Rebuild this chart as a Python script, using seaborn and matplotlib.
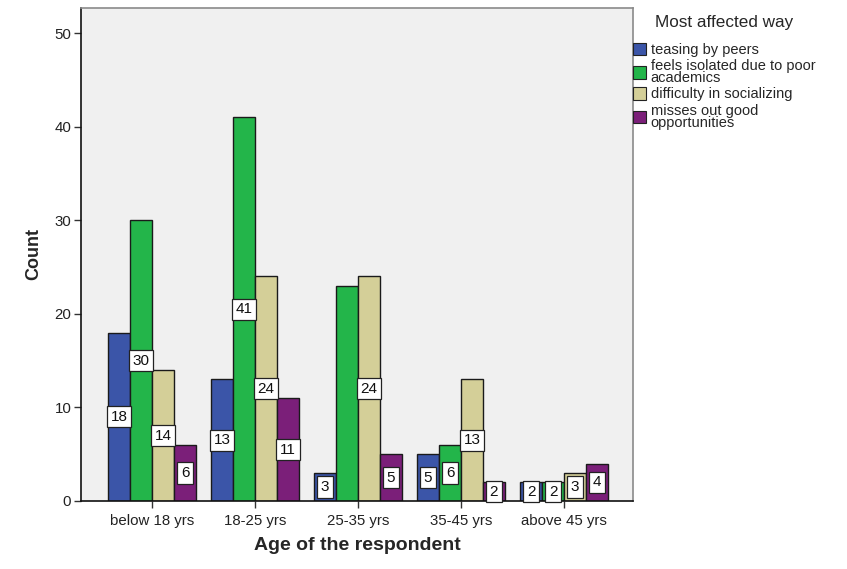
import numpy as np
import pandas as pd
import matplotlib.pyplot as plt
import seaborn as sns

# data
ages = ['below 18 yrs', '18-25 yrs', '25-35 yrs', '35-45 yrs', 'above 45 yrs']
ways = ['teasing by peers', 'feels isolated due to poor\nacademics',
        'difficulty in socializing', 'misses out good\nopportunities']
teasing = [18, 13, 3, 5, 2]
isolated = [30, 41, 23, 6, 2]
socializing = [14, 24, 24, 13, 3]
misses = [6, 11, 5, 2, 4]
colors = ['#3B55A8', '#23B54A', '#D4CF98', '#7B1F79']

rows = []
for way, vals in zip(ways, [teasing, isolated, socializing, misses]):
    for a, v in zip(ages, vals):
        rows.append({'age': a, 'way': way, 'count': v})
df = pd.DataFrame(rows)

sns.set_style('white')
plt.rcParams['font.family'] = ['Liberation Sans', 'DejaVu Sans']

fig = plt.figure(figsize=(8.47, 5.69), dpi=100)
ax = fig.add_axes([81/847, 1-501/569, 552/847, 493/569])
ax.set_facecolor('#F0F0F0')

sns.barplot(data=df, x='age', y='count', hue='way', order=ages, hue_order=ways,
            palette=colors, width=0.854, saturation=1, edgecolor='#1a1a1a',
            linewidth=1, ax=ax)

# value labels in white boxes, middle of each bar
# (the 23 on the green 25-35 bar is hidden behind its neighbour in the original)
for i, cont in enumerate(ax.containers):
    for j, bar in enumerate(cont):
        if i == 1 and j == 2:
            continue
        h = bar.get_height()
        ax.text(bar.get_x() + bar.get_width()/2, h/2, '%d' % h,
                ha='center', va='center', fontsize=11, color='#111111',
                bbox=dict(boxstyle='square,pad=0.24', fc='white', ec='#222222', lw=0.9))

ax.set_xlim(-0.69, 4.67)
ax.set_ylim(0, 52.7)
ax.set_yticks([0, 10, 20, 30, 40, 50])
ax.tick_params(axis='both', direction='out', length=5, width=1, color='#333333',
               labelsize=10.8, labelcolor='#222222', left=True, bottom=True, pad=2)
ax.tick_params(axis='x', pad=4)
ax.set_xlabel('Age of the respondent', fontsize=14, fontweight='bold', labelpad=7)
ax.set_ylabel('Count', fontsize=13, fontweight='bold', labelpad=9)

for s in ['left', 'bottom']:
    ax.spines[s].set_color('#111111')
    ax.spines[s].set_linewidth(1.2)
for s in ['top', 'right']:
    ax.spines[s].set_color('#8a8a8a')
    ax.spines[s].set_linewidth(1.2)

leg = ax.legend(title='Most affected way', loc='upper left',
                bbox_to_anchor=(633/847, 1-15/569), bbox_transform=fig.transFigure,
                frameon=False, fontsize=10.5, title_fontsize=12.3,
                handlelength=0.9, handleheight=0.95, handletextpad=0.3,
                labelspacing=0.15, borderaxespad=0.0, borderpad=0.0)
leg._legend_box.sep = 9
for t in leg.get_texts():
    t.set_linespacing(0.82)
for p in leg.get_patches():
    p.set_edgecolor('#222222')
    p.set_linewidth(0.8)

plt.savefig('out.png', dpi=100)
